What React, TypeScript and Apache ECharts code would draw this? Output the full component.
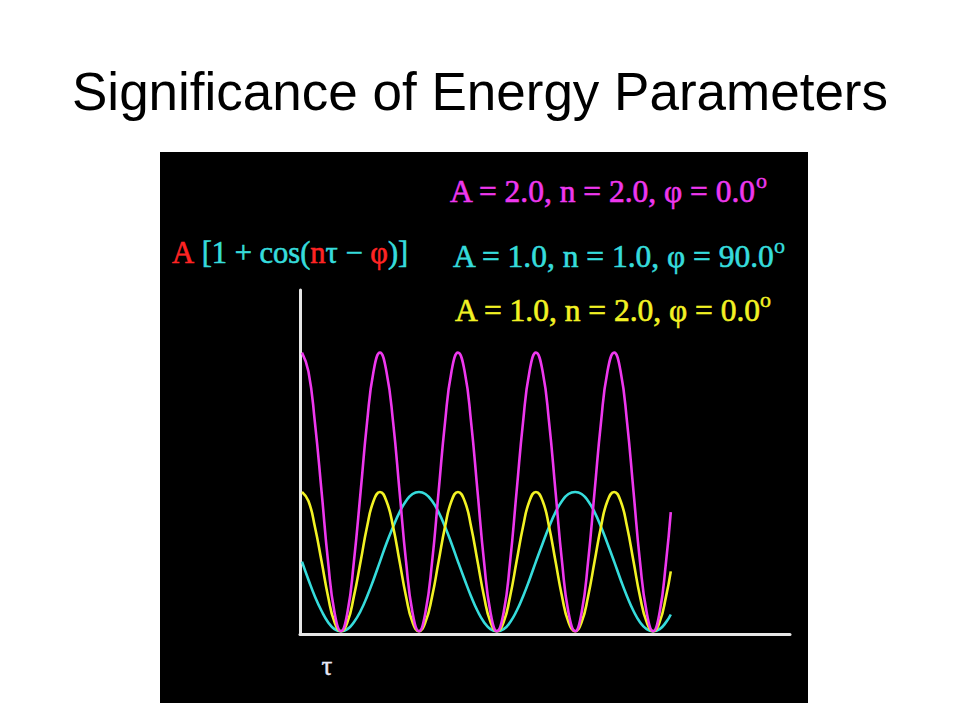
import React, { useEffect, useRef } from "react";
import * as echarts from "echarts";

const TITLE = "Significance of Energy Parameters";

// tau (radians) sample positions along the curves
const TAU = [
  0, 0.26, 0.52, 0.79, 1.05, 1.31, 1.57, 1.83, 2.09, 2.36, 2.62, 2.88,
  3.14, 3.40, 3.67, 3.93, 4.19, 4.45, 4.71, 4.97, 5.24, 5.50, 5.76, 6.02,
  6.28, 6.55, 6.81, 7.07, 7.33, 7.59, 7.85, 8.12, 8.38, 8.64, 8.90, 9.16,
  9.42, 9.69, 9.95, 10.21, 10.47, 10.73, 11.00, 11.26, 11.52, 11.78, 12.04, 12.30,
  12.57, 12.83, 13.09, 13.35, 13.61, 13.88, 14.14, 14.40, 14.66, 14.85,
];

// A = 2.0, n = 2.0, phi = 0.0  (magenta)
const MAGENTA = [
  4, 3.73, 3, 2, 1, 0.27, 0, 0.27, 1, 2, 3, 3.73,
  4, 3.73, 3, 2, 1, 0.27, 0, 0.27, 1, 2, 3, 3.73,
  4, 3.73, 3, 2, 1, 0.27, 0, 0.27, 1, 2, 3, 3.73,
  4, 3.73, 3, 2, 1, 0.27, 0, 0.27, 1, 2, 3, 3.73,
  4, 3.73, 3, 2, 1, 0.27, 0, 0.27, 1, 1.71,
];

// A = 1.0, n = 1.0, phi = 90.0 (cyan)
const CYAN = [
  1, 0.74, 0.5, 0.29, 0.13, 0.03, 0, 0.03, 0.13, 0.29, 0.5, 0.74,
  1, 1.26, 1.5, 1.71, 1.87, 1.97, 2, 1.97, 1.87, 1.71, 1.5, 1.26,
  1, 0.74, 0.5, 0.29, 0.13, 0.03, 0, 0.03, 0.13, 0.29, 0.5, 0.74,
  1, 1.26, 1.5, 1.71, 1.87, 1.97, 2, 1.97, 1.87, 1.71, 1.5, 1.26,
  1, 0.74, 0.5, 0.29, 0.13, 0.03, 0, 0.03, 0.13, 0.24,
];

// A = 1.0, n = 2.0, phi = 0.0 (yellow)
const YELLOW = [
  2, 1.87, 1.5, 1, 0.5, 0.13, 0, 0.13, 0.5, 1, 1.5, 1.87,
  2, 1.87, 1.5, 1, 0.5, 0.13, 0, 0.13, 0.5, 1, 1.5, 1.87,
  2, 1.87, 1.5, 1, 0.5, 0.13, 0, 0.13, 0.5, 1, 1.5, 1.87,
  2, 1.87, 1.5, 1, 0.5, 0.13, 0, 0.13, 0.5, 1, 1.5, 1.87,
  2, 1.87, 1.5, 1, 0.5, 0.13, 0, 0.13, 0.5, 0.86,
];

const LEGEND_TEXTS = [
  "A = 2.0, n = 2.0, φ = 0.0",
  "A = 1.0, n = 1.0, φ = 90.0",
  "A = 1.0, n = 2.0, φ = 0.0",
];

const C_MAGENTA = "#ee38ee";
const C_CYAN = "#36dcdc";
const C_YELLOW = "#f2f224";
const C_RED = "#ff2424";

export default function App() {
  const ref = useRef<HTMLDivElement>(null);

  useEffect(() => {
    if (!ref.current) return;
    const chart = echarts.init(ref.current, null, { renderer: "svg" });
    const pairs = (ys: number[]) => ys.map((v, i) => [TAU[i], v]);
    const serif = "'Liberation Serif', 'Times New Roman', serif";

    const lineSeries = (name: string, ys: number[], color: string) => ({
      name,
      type: "line",
      data: pairs(ys),
      smooth: true,
      showSymbol: false,
      symbol: "none",
      lineStyle: { color, width: 2.6 },
      itemStyle: { color },
      silent: true,
    });

    const legendText = (text: string, x: number, y: number, color: string) => ({
      type: "text",
      x,
      y,
      style: {
        text,
        fill: color,
        stroke: color,
        lineWidth: 0.6,
        fontSize: 31.5,
        fontFamily: serif,
        align: "left",
        verticalAlign: "middle",
      },
    });

    const sup = (x: number, y: number, color: string) => ({
      type: "text",
      x,
      y,
      style: {
        text: "o",
        fill: color,
        stroke: color,
        lineWidth: 0.4,
        fontSize: 22,
        fontFamily: serif,
        align: "left",
        verticalAlign: "middle",
      },
    });

    chart.setOption({
      animation: false,
      backgroundColor: "#ffffff",
      grid: { left: 300, right: 170, top: 290, bottom: 86 },
      xAxis: {
        type: "value",
        min: -0.08,
        max: 19.65,
        axisLine: { show: true, onZero: false, lineStyle: { color: "#e6e6e6", width: 3 } },
        axisTick: { show: false },
        axisLabel: { show: false },
        splitLine: { show: false },
      },
      yAxis: {
        type: "value",
        min: -0.04,
        max: 4.9,
        axisLine: { show: true, onZero: false, lineStyle: { color: "#e6e6e6", width: 3 } },
        axisTick: { show: false },
        axisLabel: { show: false },
        splitLine: { show: false },
      },
      series: [
        lineSeries(LEGEND_TEXTS[1], CYAN, C_CYAN),
        lineSeries(LEGEND_TEXTS[2], YELLOW, C_YELLOW),
        lineSeries(LEGEND_TEXTS[0], MAGENTA, C_MAGENTA),
      ],
      graphic: [
        {
          type: "rect",
          z: -100,
          shape: { x: 160, y: 152, width: 648, height: 551 },
          style: { fill: "#000000" },
          silent: true,
        },
        {
          type: "text",
          x: 480,
          y: 91,
          style: {
            text: TITLE,
            fill: "#000000",
            font: "53px 'Liberation Sans', Arial, sans-serif",
            align: "center",
            verticalAlign: "middle",
          },
        },
        {
          type: "text",
          x: 172,
          y: 253,
          style: {
            text: "{r|A}{c| [1 + cos(}{r|n}{c|τ − }{r|φ}{c|)]}",
            verticalAlign: "middle",
            align: "left",
            rich: {
              r: { fill: C_RED, stroke: C_RED, lineWidth: 0.6, fontSize: 30.5, fontFamily: serif },
              c: { fill: C_CYAN, stroke: C_CYAN, lineWidth: 0.6, fontSize: 30.5, fontFamily: serif },
            },
          },
        },
        legendText(LEGEND_TEXTS[0], 450, 191.5, C_MAGENTA),
        sup(756, 180, C_MAGENTA),
        legendText(LEGEND_TEXTS[1], 453, 256.5, C_CYAN),
        sup(774, 245, C_CYAN),
        legendText(LEGEND_TEXTS[2], 455, 310.5, C_YELLOW),
        sup(760, 299, C_YELLOW),
        {
          type: "text",
          x: 327,
          y: 666,
          style: { text: "τ", fill: "#e8e8f8", stroke: "#e8e8f8", lineWidth: 0.4, fontSize: 27, fontFamily: serif, align: "center", verticalAlign: "middle" },
        },
      ],
    });

    return () => chart.dispose();
  }, []);

  return (
    <div
      ref={ref}
      style={{ position: "absolute", left: 0, top: 0, width: 960, height: 720, background: "#ffffff" }}
    />
  );
}
